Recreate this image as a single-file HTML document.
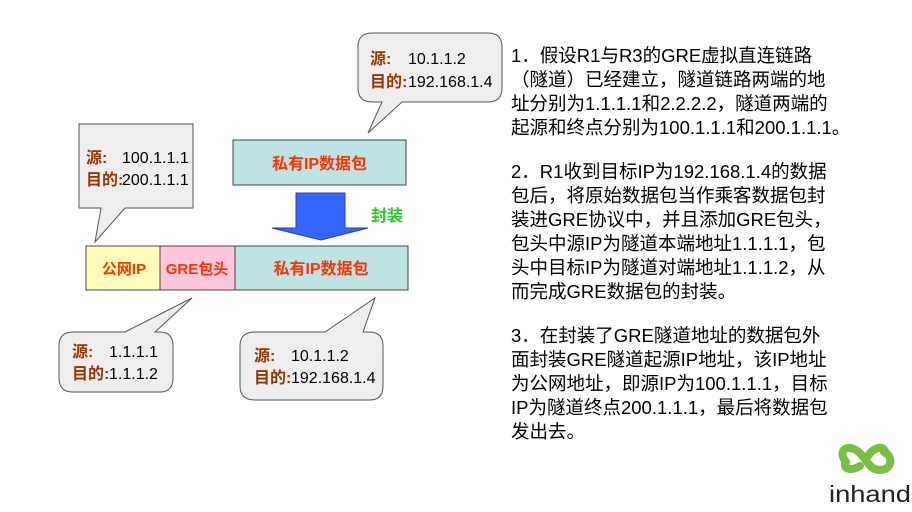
<!DOCTYPE html>
<html><head><meta charset="utf-8"><style>
body{margin:0;width:912px;height:512px;background:#fff;overflow:hidden;position:relative;font-family:"Liberation Sans","Noto Sans CJK SC",sans-serif}
.t{position:absolute;left:511px;font-family:"Liberation Sans","Noto Sans CJK SC",sans-serif;font-size:18.5px;line-height:24px;color:#000;white-space:nowrap}
</style></head><body>
<svg width="912" height="512" style="position:absolute;left:0;top:0" font-family="Liberation Sans, Noto Sans CJK SC, sans-serif">
<path d="M372,33 H488 Q502,33 502,47 V88 Q502,102 488,102 H402 L368,133 L382,102 H372 Q358,102 358,88 V47 Q358,33 372,33 Z" fill="#eeeeee" stroke="#555" stroke-width="1"/>
<text x="370" y="64" font-size="16" font-weight="bold" fill="#993300">源:</text><text x="408" y="64" font-size="16" fill="#000">10.1.1.2</text>
<text x="370" y="87" font-size="16" font-weight="bold" fill="#993300">目的:</text><text x="408" y="87" font-size="16" fill="#000">192.168.1.4</text>
<path d="M79,124 H193 V208 H125 L95,242 L101,208 H79 Z" fill="#eeeeee" stroke="#555" stroke-width="1"/>
<text x="86" y="163" font-size="16" font-weight="bold" fill="#993300">源:</text><text x="122" y="163" font-size="16" fill="#000">100.1.1.1</text>
<text x="86" y="185" font-size="16" font-weight="bold" fill="#993300">目的:</text><text x="122" y="185" font-size="16" fill="#000">200.1.1.1</text>
<rect x="233" y="140" width="173" height="45" fill="#bde3e3" stroke="#444"/>
<text x="319.5" y="169" font-size="16" font-weight="bold" fill="#ff3300" text-anchor="middle">私有IP数据包</text>
<path d="M296,193 H345 V228 H368 L321,240 L272,228 H296 Z" fill="#3366ff" stroke="#2244aa" stroke-width="1"/>
<text x="371" y="221" font-size="16" font-weight="bold" fill="#22cc22">封装</text>
<rect x="86" y="246" width="74" height="44" fill="#ffffbb" stroke="#444"/>
<rect x="160" y="246" width="75" height="44" fill="#ffc6dc" stroke="#444"/>
<rect x="235" y="246" width="173" height="44" fill="#bde3e3" stroke="#444"/>
<text x="124" y="274" font-size="15" font-weight="bold" fill="#ff3300" text-anchor="middle">公网IP</text>
<text x="197" y="274" font-size="15" font-weight="bold" fill="#ff3300" text-anchor="middle">GRE包头</text>
<text x="321" y="274" font-size="16" font-weight="bold" fill="#ff3300" text-anchor="middle">私有IP数据包</text>
<path d="M73,332 H125 L192,298 L155,332 H160 Q173,332 173,346 V378 Q173,392 160,392 H73 Q59,392 59,378 V346 Q59,332 73,332 Z" fill="#eeeeee" stroke="#555"/>
<text x="72" y="357" font-size="16" font-weight="bold" fill="#993300">源:</text><text x="109" y="357" font-size="16" fill="#000">1.1.1.1</text>
<text x="72" y="379" font-size="16" font-weight="bold" fill="#993300">目的:</text><text x="109" y="379" font-size="16" fill="#000">1.1.1.2</text>
<path d="M255,332 H325 L375,298 L363,332 H369 Q383,332 383,346 V386 Q383,400 369,400 H255 Q240,400 240,386 V346 Q240,332 255,332 Z" fill="#eeeeee" stroke="#555"/>
<text x="254" y="361" font-size="16" font-weight="bold" fill="#993300">源:</text><text x="291" y="361" font-size="16" fill="#000">10.1.1.2</text>
<text x="254" y="383" font-size="16" font-weight="bold" fill="#993300">目的:</text><text x="291" y="383" font-size="16" fill="#000">192.168.1.4</text>
<g fill="none" stroke="#77c043" stroke-width="8" stroke-linecap="round">
<path d="M846,462 C838,452 845,444 856,450 C866,456 868,470 880,470 C892,470 894,456 884,452"/>
<path d="M860,466 C850,472 842,468 846,462 M868,456 C874,446 886,446 884,452"/>
</g>
<text x="829" y="502" font-size="23" fill="#222" font-family="Liberation Sans Narrow, Liberation Sans, sans-serif" textLength="82" lengthAdjust="spacingAndGlyphs">inhand</text>
</svg>
<div class="t" style="top:44px">1．假设R1与R3的GRE虚拟直连链路</div>
<div class="t" style="top:68px">（隧道）已经建立，隧道链路两端的地</div>
<div class="t" style="top:92px">址分别为1.1.1.1和2.2.2.2，隧道两端的</div>
<div class="t" style="top:116px">起源和终点分别为100.1.1.1和200.1.1.1。</div>
<div class="t" style="top:160px">2．R1收到目标IP为192.168.1.4的数据</div>
<div class="t" style="top:184px">包后，将原始数据包当作乘客数据包封</div>
<div class="t" style="top:208px">装进GRE协议中，并且添加GRE包头，</div>
<div class="t" style="top:232px">包头中源IP为隧道本端地址1.1.1.1，包</div>
<div class="t" style="top:256px">头中目标IP为隧道对端地址1.1.1.2，从</div>
<div class="t" style="top:280px">而完成GRE数据包的封装。</div>
<div class="t" style="top:324px">3．在封装了GRE隧道地址的数据包外</div>
<div class="t" style="top:348px">面封装GRE隧道起源IP地址，该IP地址</div>
<div class="t" style="top:372px">为公网地址，即源IP为100.1.1.1，目标</div>
<div class="t" style="top:396px">IP为隧道终点200.1.1.1，最后将数据包</div>
<div class="t" style="top:420px">发出去。</div>
</body></html>
